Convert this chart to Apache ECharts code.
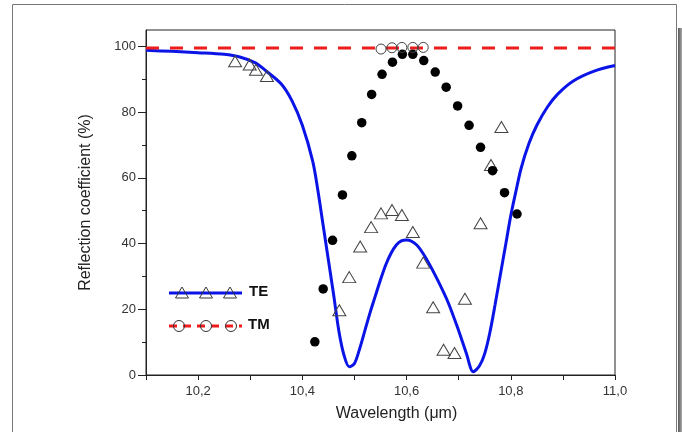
<!DOCTYPE html>
<html>
<head>
<meta charset="utf-8">
<script src="https://cdn.jsdelivr.net/npm/echarts@6/dist/echarts.min.js"></script>
<style>
  html, body { margin: 0; padding: 0; background: #fff; }
  #chart { width: 682px; height: 432px; }
</style>
</head>
<body>
<div id="chart"></div>
<script>
// TE theory curve (blue)
const teCurveX = [10.10, 10.15, 10.20, 10.25, 10.28, 10.31, 10.33, 10.36, 10.38, 10.40, 10.42, 10.43, 10.44, 10.45, 10.46, 10.47, 10.48, 10.49, 10.50, 10.51, 10.52, 10.53, 10.54, 10.55, 10.56, 10.57, 10.58, 10.59, 10.60, 10.62, 10.64, 10.66, 10.68, 10.70, 10.715, 10.728, 10.74, 10.75, 10.76, 10.77, 10.78, 10.79, 10.80, 10.81, 10.82, 10.835, 10.85, 10.87, 10.89, 10.92, 10.96, 11.00]
const teCurveY = [98.8, 98.5, 98.1, 97.6, 96.8, 95.0, 92.6, 88.5, 83.5, 76.0, 65.0, 56.0, 45.5, 35.0, 24.5, 13.5, 6.0, 2.5, 3.5, 8.0, 13.5, 19.0, 24.0, 29.0, 33.5, 37.0, 39.5, 40.8, 41.1, 39.5, 34.8, 28.8, 22.0, 13.5, 6.5, 1.0, 2.8, 6.5, 13.0, 21.5, 30.5, 39.5, 48.5, 56.0, 63.0, 70.5, 76.0, 81.5, 85.5, 89.5, 92.5, 94.2]

// TM theory (red dashed)
const tmCurveX = [10.10, 11.00]
const tmCurveY = [99.5, 99.5]

// TE measured (open triangles)
const teExpX = [10.271, 10.299, 10.311, 10.332, 10.471, 10.490, 10.511, 10.532, 10.551, 10.572, 10.591, 10.612, 10.632, 10.651, 10.671, 10.692, 10.712, 10.742, 10.762, 10.782]
const teExpY = [95.5, 94.5, 92.9, 91.0, 19.7, 29.8, 39.1, 45.0, 49.2, 50.2, 48.7, 43.5, 34.2, 20.6, 7.7, 6.7, 23.2, 46.2, 63.9, 75.5]

// TM measured (filled dots)
const tmDotX = [10.424, 10.440, 10.458, 10.477, 10.495, 10.514, 10.533, 10.553, 10.573, 10.592, 10.612, 10.633, 10.655, 10.676, 10.698, 10.720, 10.742, 10.765, 10.788, 10.812]
const tmDotY = [10.1, 26.2, 41.0, 54.8, 66.7, 76.8, 85.4, 91.5, 95.2, 97.6, 97.6, 95.7, 92.2, 87.6, 81.9, 76.0, 69.3, 62.2, 55.5, 49.0]

// TM measured (open circles)
const tmOpenX = [10.551, 10.572, 10.591, 10.612, 10.632]
const tmOpenY = [99.2, 99.6, 99.7, 99.7, 99.7]

// ticks
const xTicks = [10.1, 10.2, 10.3, 10.4, 10.5, 10.6, 10.7, 10.8, 10.9, 11.0]
const xLabels = [10.2, 10.4, 10.6, 10.8, 11.0]
const yMajor = [0, 20, 40, 60, 80, 100]
const yMinor = [10, 30, 50, 70, 90]

const zip = (xs, ys) => xs.map((x, i) => [x, ys[i]])

const myChart = echarts.init(document.getElementById('chart'))

const font = 'Liberation Sans, Arial, sans-serif'

const option = {
  backgroundColor: '#fff',
  animation: false,
  grid: {
    left: 146,
    top: 30,
    width: 469,
    height: 345,
    show: true,
    borderColor: '#222',
    borderWidth: 1,
    backgroundColor: 'transparent'
  },
  xAxis: {
    type: 'value',
    min: 10.1,
    max: 11.0,
    name: 'Wavelength (\u03bcm)',
    nameLocation: 'middle',
    nameGap: 31,
    nameTextStyle: { fontFamily: font, fontSize: 16, color: '#222', padding: [0, 0, 0, 32] },
    axisLine: { show: true, lineStyle: { color: '#222', width: 1 } },
    axisTick: { show: true, length: 5, lineStyle: { color: '#222' }, customValues: xTicks },
    axisLabel: {
      fontFamily: font, fontSize: 13, color: '#333', margin: 10,
      customValues: xLabels,
      formatter: v => v.toFixed(1).replace('.', ',')
    },
    splitLine: { show: false }
  },
  yAxis: [{
    type: 'value',
    min: 0,
    max: 105,
    name: 'Reflection coefficient (%)',
    nameLocation: 'middle',
    nameGap: 52,
    nameTextStyle: { fontFamily: font, fontSize: 16, color: '#222' },
    axisLine: { show: true, lineStyle: { color: '#222', width: 1 } },
    axisTick: { show: true, length: 8, lineStyle: { color: '#222' }, customValues: yMajor },
    axisLabel: { fontFamily: font, fontSize: 13, color: '#333', margin: 10, customValues: yMajor },
    splitLine: { show: false }
  }, {
    type: 'value',
    min: 0,
    max: 105,
    position: 'left',
    offset: 0,
    axisLine: { show: false },
    axisTick: { show: true, length: 4, lineStyle: { color: '#222' }, customValues: yMinor },
    axisLabel: { show: false },
    splitLine: { show: false }
  }],
  series: [{
    name: 'TE',
    type: 'line',
    data: zip(teCurveX, teCurveY),
    smooth: 0.3,
    showSymbol: false,
    lineStyle: { color: '#0a14e6', width: 3 },
    z: 2
  }, {
    name: 'TM',
    type: 'line',
    data: zip(tmCurveX, tmCurveY),
    showSymbol: false,
    lineStyle: { color: '#ee1c1c', width: 3, type: [13, 11] },
    z: 2
  }, {
    name: 'TE exp',
    type: 'scatter',
    data: zip(teExpX, teExpY),
    symbol: 'triangle',
    symbolSize: [13, 11],
    itemStyle: { color: 'rgba(255,255,255,0)', borderColor: '#444', borderWidth: 1, opacity: 1 },
    z: 3
  }, {
    name: 'TM exp',
    type: 'scatter',
    data: zip(tmDotX, tmDotY),
    symbol: 'circle',
    symbolSize: 9.5,
    itemStyle: { color: '#000', opacity: 1 },
    z: 3
  }, {
    name: 'TM exp open',
    type: 'scatter',
    data: zip(tmOpenX, tmOpenY),
    symbol: 'circle',
    symbolSize: 10,
    itemStyle: { color: 'rgba(255,255,255,0)', borderColor: '#444', borderWidth: 1, opacity: 1 },
    z: 3
  }],
  graphic: [
    // outer frame
    { type: 'rect', shape: { x: 12.5, y: 4.5, width: 664, height: 440 }, style: { fill: 'none', stroke: '#777', lineWidth: 1 }, silent: true },
    {
      type: 'rect', shape: { x: 678, y: 28, width: 4, height: 404 }, silent: true,
      style: { fill: new echarts.graphic.LinearGradient(0, 0, 1, 0, [{ offset: 0, color: '#555' }, { offset: 1, color: '#aaa' }]) }
    },
    // legend TE
    { type: 'line', shape: { x1: 169, y1: 293, x2: 242, y2: 293 }, style: { stroke: '#0a14e6', lineWidth: 3 }, z: 10 },
    { type: 'polygon', shape: { points: [[182, 287], [175.5, 298], [188.5, 298]] }, style: { fill: 'none', stroke: '#333', lineWidth: 1 }, z: 11 },
    { type: 'polygon', shape: { points: [[206, 287], [199.5, 298], [212.5, 298]] }, style: { fill: 'none', stroke: '#333', lineWidth: 1 }, z: 11 },
    { type: 'polygon', shape: { points: [[230, 287], [223.5, 298], [236.5, 298]] }, style: { fill: 'none', stroke: '#333', lineWidth: 1 }, z: 11 },
    { type: 'text', left: 249, top: 284, style: { text: 'TE', font: 'bold 15px ' + font, fill: '#111' }, z: 10 },
    // legend TM
    { type: 'line', shape: { x1: 169, y1: 326, x2: 242, y2: 326 }, style: { stroke: '#ee1c1c', lineWidth: 3, lineDash: [8, 6] }, z: 10 },
    { type: 'circle', shape: { cx: 179, cy: 326, r: 5.5 }, style: { fill: 'none', stroke: '#333', lineWidth: 1 }, z: 11 },
    { type: 'circle', shape: { cx: 206, cy: 326, r: 5.5 }, style: { fill: 'none', stroke: '#333', lineWidth: 1 }, z: 11 },
    { type: 'circle', shape: { cx: 231, cy: 326, r: 5.5 }, style: { fill: 'none', stroke: '#333', lineWidth: 1 }, z: 11 },
    { type: 'text', left: 248, top: 317, style: { text: 'TM', font: 'bold 15px ' + font, fill: '#111' }, z: 10 }
  ]
}

myChart.setOption(option)
</script>
</body>
</html>
